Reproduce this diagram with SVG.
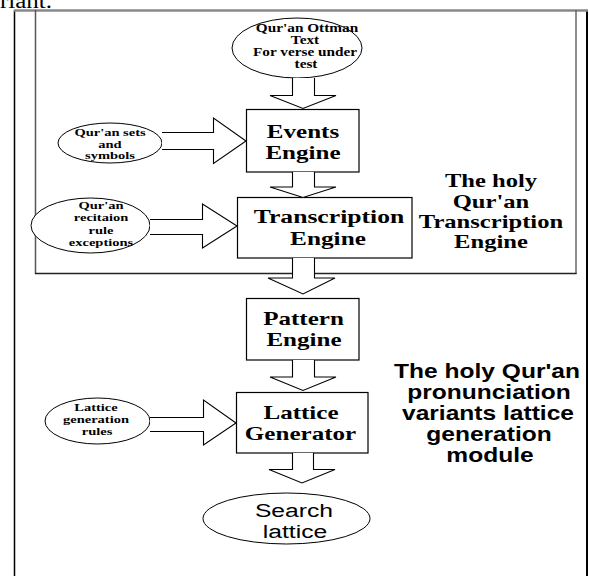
<svg xmlns="http://www.w3.org/2000/svg" width="589" height="576" viewBox="0 0 589 576">
<style>
.box{fill:#fff;stroke:#000;stroke-width:1.2}
.el{fill:#fff;stroke:#000;stroke-width:1}
.arr{fill:#fff;stroke:#000;stroke-width:1.1;stroke-linejoin:miter}
.tb{font-family:"Liberation Serif","Times New Roman",serif;font-weight:bold;text-anchor:middle;fill:#000}
.sb{font-family:"Liberation Sans",Arial,sans-serif;font-weight:bold;text-anchor:middle;fill:#000}
.sr{font-family:"Liberation Sans",Arial,sans-serif;text-anchor:middle;fill:#000}
.big{font-size:19px}
.sm{font-size:10.5px}
</style>
<rect width="589" height="576" fill="#fff"/>
<text x="0" y="7.5" transform="scale(1.25,1)" style="font-family:'Liberation Serif','Times New Roman',serif;font-size:20px">riant.</text>
<g id="frame">
<line x1="14.5" y1="10" x2="14.5" y2="576" stroke="#000" stroke-width="1.5"/>
<line x1="587" y1="10" x2="587" y2="576" stroke="#000" stroke-width="2"/>
<line x1="14" y1="10.5" x2="588" y2="10.5" stroke="#888" stroke-width="2.5"/>
</g>
<g id="transcription-module">
<line x1="35.5" y1="10" x2="35.5" y2="274" stroke="#555" stroke-width="1.5"/>
<line x1="576" y1="10" x2="576" y2="274" stroke="#666" stroke-width="1.5"/>
<line x1="35" y1="273.5" x2="576.5" y2="273.5" stroke="#222" stroke-width="1.3"/>
<g class="tb" style="font-size:18.5px">
<text transform="translate(491,187) scale(1.33,1)">The holy</text>
<text transform="translate(491,208) scale(1.33,1)">Qur'an</text>
<text transform="translate(491,228) scale(1.33,1)">Transcription</text>
<text transform="translate(491,248) scale(1.33,1)">Engine</text>
</g>
</g>
<g id="lattice-module-label" class="sb" style="font-size:19.5px">
<text transform="translate(487,378) scale(1.26,1)">The holy Qur'an</text>
<text transform="translate(489,399) scale(1.26,1)">pronunciation</text>
<text transform="translate(488,420) scale(1.26,1)">variants lattice</text>
<text transform="translate(489,441) scale(1.26,1)">generation</text>
<text transform="translate(490,462) scale(1.26,1)">module</text>
</g>
<g id="ottman-text">
<ellipse class="el" cx="297" cy="48" rx="65" ry="30"/>
<g class="tb" style="font-size:11.5px">
<text transform="translate(307,31.5) scale(1.33,1)">Qur'an Ottman</text>
<text transform="translate(305,43.5) scale(1.33,1)">Text</text>
<text transform="translate(305,56) scale(1.33,1)">For verse under</text>
<text transform="translate(306,68) scale(1.33,1)">test</text>
</g>
</g>
<g id="sets-symbols">
<ellipse class="el" cx="110" cy="143" rx="52" ry="20"/>
<g class="tb sm">
<text transform="translate(110,136) scale(1.38,1)">Qur'an sets</text>
<text transform="translate(110,147.5) scale(1.38,1)">and</text>
<text transform="translate(110,158.5) scale(1.38,1)">symbols</text>
</g>
</g>
<g id="recitation-exceptions">
<ellipse class="el" cx="90.5" cy="225.5" rx="59.5" ry="27.5"/>
<g class="tb sm">
<text transform="translate(101,208.5) scale(1.38,1)">Qur'an</text>
<text transform="translate(101,221) scale(1.38,1)">recitaion</text>
<text transform="translate(101,233.5) scale(1.38,1)">rule</text>
<text transform="translate(101,246) scale(1.38,1)">exceptions</text>
</g>
</g>
<g id="lattice-rules">
<ellipse class="el" cx="97.5" cy="421" rx="52.5" ry="23"/>
<g class="tb sm">
<text transform="translate(96,411) scale(1.38,1)">Lattice</text>
<text transform="translate(96,423) scale(1.38,1)">generation</text>
<text transform="translate(97,435) scale(1.38,1)">rules</text>
</g>
</g>
<g id="events-engine">
<rect class="box" x="246.5" y="109.5" width="112.5" height="62.5"/>
<g class="tb big">
<text transform="translate(303,137.5) scale(1.32,1)">Events</text>
<text transform="translate(303,158.5) scale(1.32,1)">Engine</text>
</g>
</g>
<g id="transcription-engine">
<rect class="box" x="237.5" y="197.5" width="174.5" height="60.5"/>
<g class="tb big">
<text transform="translate(329,222.5) scale(1.35,1)">Transcription</text>
<text transform="translate(328,245) scale(1.33,1)">Engine</text>
</g>
</g>
<g id="pattern-engine">
<rect class="box" x="246.5" y="298.5" width="112.5" height="61.5"/>
<g class="tb big">
<text transform="translate(303.5,325) scale(1.32,1)">Pattern</text>
<text transform="translate(304,346) scale(1.32,1)">Engine</text>
</g>
</g>
<g id="lattice-generator">
<rect class="box" x="236.5" y="392.5" width="131.5" height="60.5"/>
<g class="tb big">
<text transform="translate(301,419) scale(1.32,1)">Lattice</text>
<text transform="translate(300.5,440) scale(1.32,1)">Generator</text>
</g>
</g>
<g id="search-lattice">
<ellipse class="el" cx="286.5" cy="518.5" rx="83.5" ry="25.5"/>
<g class="sr" style="font-size:19px">
<text transform="translate(294,517) scale(1.3,1)">Search</text>
<text transform="translate(295,538) scale(1.3,1)">lattice</text>
</g>
</g>
<g id="connectors">
<path class="arr" d="M292.5,78 V95.5 H270 L303,108.5 L336,95.5 H314.5 V78"/>
<path class="arr" d="M292.5,172 V187 H270 L303,197.5 L336,187 H314.5 V172"/>
<path class="arr" d="M292.5,258 V278 H268 L303,294 L335,278 H314.5 V258"/>
<path class="arr" d="M292.5,360 V377 H270 L303,390.5 L336,377 H314.5 V360"/>
<path class="arr" d="M292.5,453 V469.5 H269 L302,483 L335,469.5 H313.5 V453"/>
<path class="arr" d="M162,132.5 H213.5 V118 L246,141 L213.5,163.5 V149.5 H162"/>
<path class="arr" d="M150,219.5 H202.5 V204 L237,226 L202.5,248 V234.5 H150"/>
<path class="arr" d="M150,417.5 H203.5 V400 L236,423 L203.5,445 V431.5 H150"/>
</g>
</svg>
